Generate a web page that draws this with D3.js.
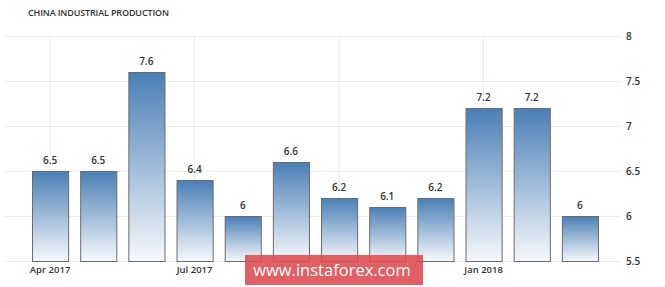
<!DOCTYPE html>
<html lang="en">
<head>
<meta charset="utf-8">
<title>China Industrial Production</title>
<style>
  body { margin: 0; background: #fff; }
  svg text { font-family: "Open Sans", sans-serif; }
</style>
<script src="https://d3js.org/d3.v7.min.js"></script>
</head>
<body>
<script>
var months = ["Apr 2017", "May 2017", "Jun 2017", "Jul 2017", "Aug 2017", "Sep 2017",
              "Oct 2017", "Nov 2017", "Dec 2017", "Jan 2018", "Feb 2018", "Mar 2018"];
var values = [6.5, 6.5, 7.6, 6.4, 6, 6.6, 6.2, 6.1, 6.2, 7.2, 7.2, 6];
var yTicks = [5.5, 6, 6.5, 7, 7.5, 8];
var xTickLabels = ["Apr 2017", "Jul 2017", "Oct 2017", "Jan 2018"];
var xShownLabels = ["Apr 2017", "Jul 2017", "Jan 2018"];

var w = 665, h = 287;
var svg = d3.select("body").append("svg")
    .attr("width", w)
    .attr("height", h);

var defs = svg.append("defs");
var grad = defs.append("linearGradient")
    .attr("id", "barGrad")
    .attr("x1", 0).attr("y1", 0).attr("x2", 0).attr("y2", 1);
grad.append("stop").attr("offset", "0%").attr("stop-color", "#4a7fb6");
grad.append("stop").attr("offset", "100%").attr("stop-color", "#f7f9fc");

var x = d3.scaleBand()
    .domain(months)
    .range([26, 604])
    .paddingInner(0.25)
    .paddingOuter(0.125);

var y = d3.scaleLinear()
    .domain([5.5, 8])
    .range([261, 36]);

// title
svg.append("text")
    .attr("x", 28)
    .attr("y", 16)
    .attr("font-size", "9px")
    .attr("font-weight", 600)
    .attr("fill", "#333")
    .attr("textLength", 141)
    .text("CHINA INDUSTRIAL PRODUCTION");

// horizontal grid + right labels
var yAxis = d3.axisRight(y)
    .tickValues(yTicks)
    .tickSize(-615)
    .tickPadding(6)
    .tickFormat(d => d);
var gy = svg.append("g")
    .attr("transform", "translate(620,0)")
    .call(yAxis);
gy.select(".domain").remove();
gy.selectAll("line").attr("stroke", "#ebebeb");
gy.selectAll("text")
    .attr("font-size", "10px")
    .attr("font-weight", 600)
    .attr("fill", "#333");

// vertical grid lines at quarter months
svg.append("g").selectAll("line")
    .data(xTickLabels)
    .enter()
    .append("line")
    .attr("x1", d => x(d) + x.bandwidth() / 2)
    .attr("x2", d => x(d) + x.bandwidth() / 2)
    .attr("y1", y(8))
    .attr("y2", y(5.5))
    .attr("stroke", "#ebebeb");

// bars
svg.selectAll("rect.bar")
    .data(values)
    .enter()
    .append("rect")
    .attr("class", "bar")
    .attr("x", (_, i) => x(months[i]) + 0.5)
    .attr("y", d => y(d) + 0.5)
    .attr("width", x.bandwidth())
    .attr("height", d => y(5.5) - y(d))
    .attr("fill", "url(#barGrad)")
    .attr("stroke", "#6b6b6b")
    .attr("stroke-width", 1);

// value labels
svg.selectAll("text.val")
    .data(values)
    .enter()
    .append("text")
    .attr("class", "val")
    .attr("x", (_, i) => x(months[i]) + x.bandwidth() / 2)
    .attr("y", d => y(d) - 7)
    .attr("text-anchor", "middle")
    .attr("font-size", "10px")
    .attr("font-weight", 600)
    .attr("fill", "#333")
    .text(d => d);

// x axis labels
var xAxis = d3.axisBottom(x)
    .tickValues(xShownLabels)
    .tickSize(0)
    .tickPadding(5);
var gx = svg.append("g")
    .attr("transform", "translate(0," + y(5.5) + ")")
    .call(xAxis);
gx.select(".domain").remove();
gx.selectAll("text")
    .attr("font-size", "9.5px")
    .attr("font-weight", 600)
    .attr("fill", "#333");

// watermark
var wm = svg.append("g");
wm.append("rect")
    .attr("x", 245)
    .attr("y", 255)
    .attr("width", 178)
    .attr("height", 30)
    .attr("fill", "#dc4a50")
    .attr("fill-opacity", 0.88);
wm.append("text")
    .attr("x", 332)
    .attr("y", 276)
    .attr("text-anchor", "middle")
    .attr("font-family", "Liberation Sans, Arial, sans-serif")
    .attr("font-size", "16.5px")
    .attr("fill", "#fff")
    .text("www.instaforex.com");
</script>
</body>
</html>
